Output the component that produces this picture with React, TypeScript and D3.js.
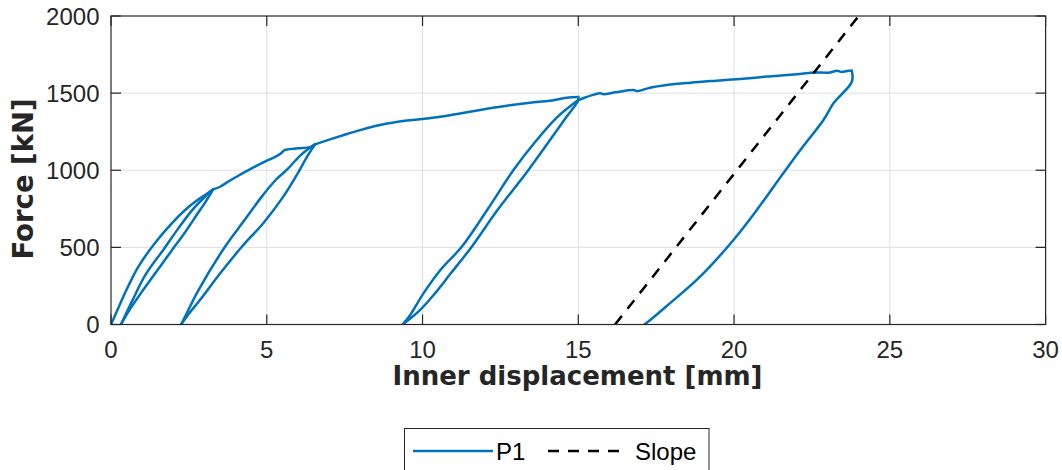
import React from "react";
import * as d3 from "d3";

type Pt = [number, number];

// Force–displacement record of specimen P1, segment by segment [displacement mm, force kN]
const loading1: Pt[] = [
  [0, 0], [0.08, 35], [0.45, 204], [0.88, 375], [1.4, 525], [1.95, 656],
  [2.38, 742], [2.7, 795], [3.02, 840], [3.28, 876],
];
const unloading1: Pt[] = [
  [3.28, 876], [3.05, 800], [2.75, 710], [2.35, 590], [1.95, 480], [1.45, 340],
  [0.95, 200], [0.55, 80], [0.32, 0],
];
const reloading1: Pt[] = [
  [0.32, 0], [0.65, 140], [1.1, 320], [1.7, 490], [2.15, 620], [2.6, 740],
  [3.0, 825], [3.28, 876],
];
const envelope1: Pt[] = [
  [3.28, 876], [3.5, 893], [3.75, 925], [4.03, 958], [4.5, 1010], [5.0, 1062],
  [5.3, 1090], [5.45, 1108], [5.55, 1128], [5.65, 1135], [6.0, 1142],
  [6.39, 1150], [6.55, 1168],
];
const unloading2: Pt[] = [
  [6.55, 1168], [6.3, 1090], [6.05, 1000], [5.53, 829], [4.9, 660], [4.2, 504],
  [3.5, 330], [2.9, 170], [2.5, 70], [2.25, 0],
];
const reloading2: Pt[] = [
  [2.25, 0], [2.4, 60], [2.8, 220], [3.66, 504], [4.3, 680], [4.84, 829],
  [5.3, 940], [5.64, 1002], [6.1, 1100], [6.55, 1168],
];
const envelope2: Pt[] = [
  [6.55, 1168], [7.03, 1200], [7.5, 1230], [8.0, 1260], [8.64, 1293],
  [9.5, 1322], [10.46, 1343], [11.2, 1368], [11.85, 1391], [12.6, 1415],
  [13.45, 1438], [14.09, 1451], [14.63, 1470], [15.0, 1475],
];
const unloading3: Pt[] = [
  [15.0, 1475], [15.0, 1455], [14.6, 1340], [13.4, 1002], [12.4, 740],
  [11.58, 504], [10.9, 330], [10.4, 202], [9.9, 90], [9.36, 0],
];
const reloading3: Pt[] = [
  [9.36, 0], [9.6, 60], [10.03, 202], [10.6, 360], [11.26, 504], [12.1, 750],
  [12.92, 1002], [13.6, 1180], [14.3, 1340], [15.0, 1455],
];
const envelope3: Pt[] = [
  [15.0, 1455], [15.2, 1470], [15.5, 1490], [15.7, 1499], [15.8, 1493],
  [16.2, 1505], [16.77, 1520], [16.9, 1513], [17.3, 1535], [17.84, 1553],
  [18.6, 1568], [19.44, 1581], [20.2, 1592], [21.05, 1607], [21.9, 1620],
  [22.55, 1633], [23.08, 1634], [23.3, 1645], [23.46, 1637], [23.67, 1645],
  [23.78, 1645],
];
const unloading4: Pt[] = [
  [23.78, 1645], [23.78, 1574], [23.19, 1434], [22.87, 1326], [22.2, 1150],
  [21.58, 980], [20.73, 742], [19.98, 548], [18.91, 310], [17.84, 120],
  [17.3, 28], [17.12, 0],
];

const segments: Pt[][] = [
  loading1, unloading1, reloading1, envelope1,
  unloading2, reloading2, envelope2,
  unloading3, reloading3, envelope3,
  unloading4,
];

// Reference slope line
const slopeDisp = [16.18, 24.0];
const slopeForce = [0, 2000];

const xTicks = [0, 5, 10, 15, 20, 25, 30];
const yTicks = [0, 500, 1000, 1500, 2000];

const W = 1062;
const H = 470;
const left = 111;
const right = 1045.6;
const top = 16;
const bottom = 324.5;

const BLUE = "#0072BD";
const AXIS = "#262626";

export default function App() {
  const x = d3.scaleLinear().domain([0, 30]).range([left, right]);
  const y = d3.scaleLinear().domain([0, 2000]).range([bottom, top]);

  const smooth = d3
    .line<Pt>()
    .x((d) => x(d[0]))
    .y((d) => y(d[1]))
    .curve(d3.curveCatmullRom.alpha(0.5));
  const straight = d3.line<Pt>().x((d) => x(d[0])).y((d) => y(d[1]));
  const slopePts: Pt[] = slopeDisp.map((d, i) => [d, slopeForce[i]]);

  const tickFont = "'Liberation Sans', Arial, Helvetica, sans-serif";
  const labelFont = "'DejaVu Sans', Verdana, sans-serif";
  const tl = 10;

  return (
    <svg
      width={W}
      height={H}
      style={{ position: "absolute", left: 0, top: 0, background: "#fff" }}
    >
      <defs>
        <clipPath id="plot-clip">
          <rect x={left} y={top} width={right - left} height={bottom - top} />
        </clipPath>
      </defs>
      <rect x={0} y={0} width={W} height={H} fill="#fff" />

      {/* grid */}
      <g stroke="#dfdfdf" strokeWidth={1}>
        {xTicks.slice(1, -1).map((t) => (
          <line key={`gx${t}`} x1={x(t)} x2={x(t)} y1={top} y2={bottom} />
        ))}
        {yTicks.slice(1, -1).map((t) => (
          <line key={`gy${t}`} x1={left} x2={right} y1={y(t)} y2={y(t)} />
        ))}
      </g>

      {/* data */}
      <g clipPath="url(#plot-clip)" fill="none" strokeLinejoin="round" strokeLinecap="round">
        {segments.map((seg, i) => (
          <path key={`s${i}`} d={smooth(seg) ?? ""} stroke={BLUE} strokeWidth={2.5} />
        ))}
        <path
          d={straight(slopePts) ?? ""}
          stroke="#000"
          strokeWidth={2.5}
          strokeDasharray="11 9"
          strokeLinecap="butt"
        />
      </g>

      {/* axes box and ticks */}
      <g stroke={AXIS} strokeWidth={1.2} fill="none">
        <rect x={left} y={top} width={right - left} height={bottom - top} />
        {xTicks.map((t) => (
          <g key={`tx${t}`}>
            <line x1={x(t)} x2={x(t)} y1={bottom} y2={bottom - tl} />
            <line x1={x(t)} x2={x(t)} y1={top} y2={top + tl} />
          </g>
        ))}
        {yTicks.map((t) => (
          <g key={`ty${t}`}>
            <line x1={left} x2={left + tl} y1={y(t)} y2={y(t)} />
            <line x1={right} x2={right - tl} y1={y(t)} y2={y(t)} />
          </g>
        ))}
      </g>

      {/* tick labels */}
      <g fill={AXIS} fontFamily={tickFont} fontSize={24}>
        {xTicks.map((t) => (
          <text key={`lx${t}`} x={x(t)} y={357.5} textAnchor="middle">
            {t}
          </text>
        ))}
        {yTicks.map((t) => (
          <text key={`ly${t}`} x={99.5} y={y(t) + 8.5} textAnchor="end">
            {t}
          </text>
        ))}
      </g>

      {/* axis titles */}
      <text
        x={577.5}
        y={385}
        textAnchor="middle"
        fontFamily={labelFont}
        fontWeight="bold"
        fontSize={26}
        fill={AXIS}
      >
        Inner displacement [mm]
      </text>
      <text
        transform="translate(33,179) rotate(-90)"
        textAnchor="middle"
        fontFamily={labelFont}
        fontWeight="bold"
        fontSize={27.5}
        fill={AXIS}
      >
        Force [kN]
      </text>

      {/* legend */}
      <g>
        <rect x={404.5} y={428.5} width={304.5} height={50} fill="#fff" stroke={AXIS} strokeWidth={1} />
        <line x1={413} x2={493} y1={451} y2={451} stroke={BLUE} strokeWidth={2.5} />
        <text x={496} y={459.5} fontFamily={tickFont} fontSize={24} fill="#000">
          P1
        </text>
        <line
          x1={548}
          x2={620}
          y1={451}
          y2={451}
          stroke="#000"
          strokeWidth={2.5}
          strokeDasharray="11 9"
        />
        <text x={635} y={459.5} fontFamily={tickFont} fontSize={24} fill="#000">
          Slope
        </text>
      </g>
    </svg>
  );
}
